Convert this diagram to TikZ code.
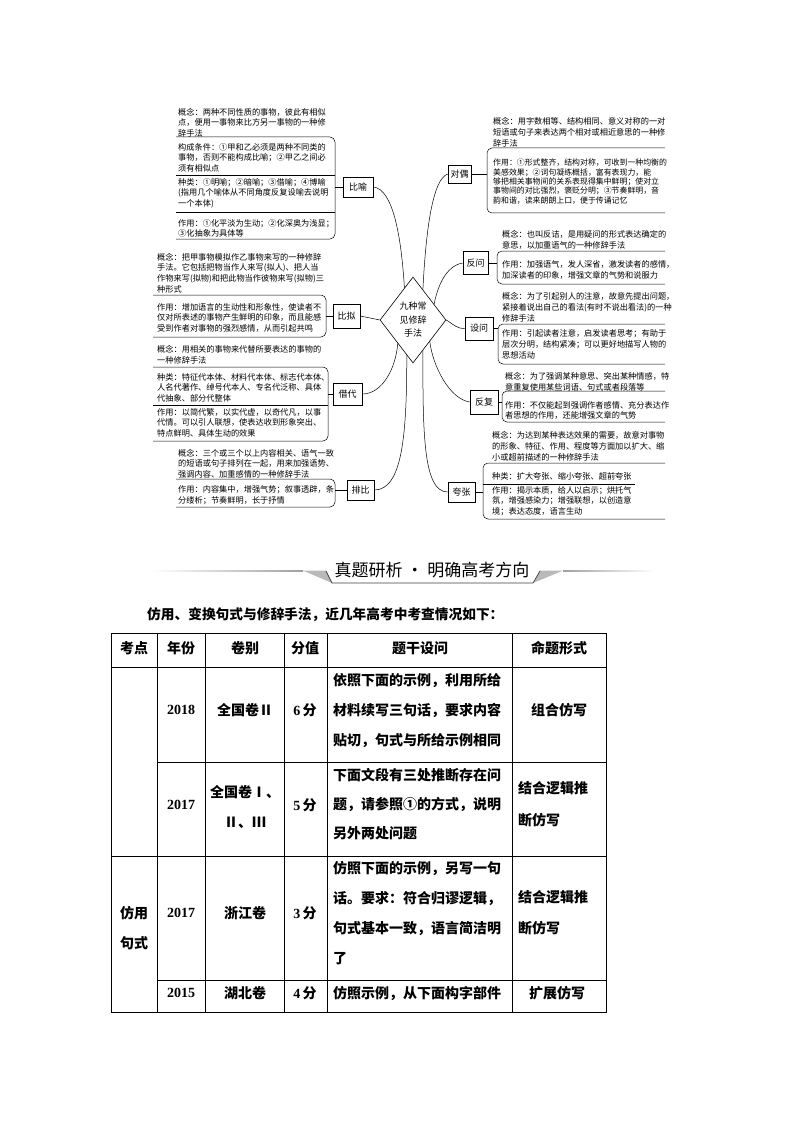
\documentclass[tikz,border=0pt]{standalone}
\usepackage{fontspec}
\setmainfont{Noto Sans CJK SC}
\newfontfamily\numf{Liberation Serif}
\usetikzlibrary{shapes.geometric}
\begin{document}
\begin{tikzpicture}[x=1pt,y=-1pt,
  mtxt/.style={anchor=north west, inner sep=0pt, align=left, font=\fontsize{8.2}{#1}\selectfont},
  mtxt/.default=10.5,
  tech/.style={draw, line width=0.6pt, inner sep=0pt, font=\fontsize{9}{9}\selectfont},
  ln/.style={line width=0.5pt},
  br/.style={line width=0.5pt, rounded corners=5pt},
  tb/.style={line width=0.8pt},
  th/.style={inner sep=0pt, font=\fontsize{14}{14}\selectfont\bfseries},
  tc/.style={inner sep=0pt, font=\fontsize{14}{30}\selectfont\bfseries, align=center},
  tl/.style={inner sep=0pt, anchor=north west, align=left, font=\fontsize{14}{#1}\selectfont\bfseries},
  tl/.default=30
]
\useasboundingbox (0,0) rectangle (794,1123);
\fill[white] (0,0) rectangle (794,1123);

% ---------- centre ----------
\node[draw, shape=diamond, line width=0.6pt, minimum width=66pt, minimum height=86pt, inner sep=0pt,
      align=center, font=\fontsize{9}{13.5}\selectfont] (c) at (413,320) {九种常\\见修辞\\手法};

% ---------- technique boxes ----------
\node[tech, minimum width=30pt, minimum height=20pt] (by) at (358,187) {比喻};
\node[tech, minimum width=27pt, minimum height=24pt] (bn) at (346.5,316) {比拟};
\node[tech, minimum width=29pt, minimum height=22pt] (jd) at (347.5,394) {借代};
\node[tech, minimum width=27pt, minimum height=20pt] (pb) at (360.5,490) {排比};
\node[tech, minimum width=23pt, minimum height=18pt] (dy) at (459.5,174) {对偶};
\node[tech, minimum width=25pt, minimum height=23pt] (fw) at (475.5,263) {反问};
\node[tech, minimum width=28pt, minimum height=23pt] (sw) at (479,328.5) {设问};
\node[tech, minimum width=28pt, minimum height=24pt] (ff) at (484,402) {反复};
\node[tech, minimum width=27pt, minimum height=20pt] (kz) at (461.5,492) {夸张};

% ---------- connectors to centre ----------
\draw[ln] (by.east) .. controls +(20,2) and +(-3,-50) .. (c.105);
\draw[ln] (bn.east) -- (c.west);
\draw[ln] (jd.east) .. controls +(20,0) and +(-2,25) .. (c.-123);
\draw[ln] (pb.east) .. controls +(28,0) and +(0,80) .. (c.-100);
\draw[ln] (dy.west) .. controls +(-15,5) and +(3,-60) .. (c.72);
\draw[ln] (fw.west) .. controls +(-18,3) and +(3,-15) .. (c.37);
\draw[ln] (sw.west) .. controls +(-8,0) and +(8,5) .. (c.east);
\draw[ln] (ff.west) .. controls +(-20,-3) and +(3,25) .. (c.-52);
\draw[ln] (kz.west) .. controls +(-25,0) and +(0,80) .. (c.-72);

% ---------- 比喻 ----------
\node[mtxt] (by1) at (178,108) {概念：两种不同性质的事物，彼此有相似\\点，便用一事物来比方另一事物的一种修\\辞手法};
\draw[br] (176,137) -- (335,137) -- (335,239) -- (176,239);
\draw[ln] (176,175) -- (335,175);
\draw[ln] (176,212) -- (335,212);
\node[mtxt] (by2) at (178,143) {构成条件：①甲和乙必须是两种不同类的\\事物，否则不能构成比喻；②甲乙之间必\\须有相似点};
\node[mtxt] (by3) at (178,178) {种类：①明喻；②暗喻；③借喻；④博喻\\(指用几个喻体从不同角度反复设喻去说明\\一个本体)};
\node[mtxt] (by4) at (178,219) {作用：①化平淡为生动；②化深奥为浅显；\\③化抽象为具体等};
\coordinate (byb) at (335,187);
\draw[ln] (byb) -- (by.west);

% ---------- 比拟 ----------
\node[mtxt=10.7] (bn1) at (157,253) {概念：把甲事物模拟作乙事物来写的一种修辞\\手法。它包括把物当作人来写(拟人)、把人当\\作物来写(拟物)和把此物当作彼物来写(拟物)三\\种形式};
\draw[br] (153,295) -- (326,295) -- (326,337) -- (153,337);
\node[mtxt] (bn2) at (157,303) {作用：增加语言的生动性和形象性，使读者不\\仅对所表述的事物产生鲜明的印象，而且能感\\受到作者对事物的强烈感情，从而引起共鸣};
\coordinate (bnb) at (326,316);
\draw[ln] (bnb) -- (bn.west);

% ---------- 借代 ----------
\node[mtxt=11.5] (jd1) at (157,345) {概念：用相关的事物来代替所要表达的事物的\\一种修辞手法};
\draw[br] (153,367) -- (328,367) -- (328,441) -- (153,441);
\draw[ln] (153,405) -- (328,405);
\node[mtxt=10.7] (jd2) at (157,373) {种类：特征代本体、材料代本体、标志代本体、\\人名代著作、绰号代本人、专名代泛称、具体\\代抽象、部分代整体};
\node[mtxt=10.7] (jd3) at (157,408) {作用：以简代繁，以实代虚，以奇代凡，以事\\代情。可以引人联想，使表达收到形象突出、\\特点鲜明、具体生动的效果};
\coordinate (jdb) at (328,394);
\draw[ln] (jdb) -- (jd.west);

% ---------- 排比 ----------
\node[mtxt] (pb1) at (178,449) {概念：三个或三个以上内容相关、语气一致\\的短语或句子排列在一起，用来加强语势、\\强调内容、加重感情的一种修辞手法};
\draw[br] (176,479) -- (335,479) -- (335,507) -- (176,507);
\node[mtxt=11] (pb2) at (178,485) {作用：内容集中，增强气势；叙事透辟，条\\分缕析；节奏鲜明，长于抒情};
\coordinate (pbb) at (335,490);
\draw[ln] (pbb) -- (pb.west);

% ---------- 对偶 ----------
\node[mtxt=11] (dy1) at (493,117) {概念：用字数相等、结构相同、意义对称的一对\\短语或句子来表达两个相对或相近意思的一种修\\辞手法};
\draw[br] (665,148) -- (487,148) -- (487,213) -- (665,213);
\node[mtxt=9.3, font=\fontsize{7.9}{9.3}\selectfont] (dy2) at (493,159) {作用：①形式整齐，结构对称，可收到一种均衡的\\美感效果；②词句凝练概括，富有表现力，能\\够把相关事物间的关系表现得集中鲜明；使对立\\事物间的对比强烈，褒贬分明；③节奏鲜明，音\\韵和谐，读来朗朗上口，便于传诵记忆};
\coordinate (dyb) at (487,174);
\draw[ln] (dy.east) -- (dyb);

% ---------- 反问 ----------
\node[mtxt=11] (fw1) at (502,230) {概念：也叫反诘，是用疑问的形式表达确定的\\意思，以加重语气的一种修辞手法};
\draw[br] (665,251) -- (497,251) -- (497,284) -- (665,284);
\node[mtxt=11] (fw2) at (502,260) {作用：加强语气，发人深省，激发读者的感情，\\加深读者的印象，增强文章的气势和说服力};
\coordinate (fwb) at (497,263);
\draw[ln] (fw.east) -- (fwb);

% ---------- 设问 ----------
\node[mtxt=11] (sw1) at (502,292) {概念：为了引起别人的注意，故意先提出问题，\\紧接着说出自己的看法(有时不说出看法)的一种\\修辞手法};
\draw[br] (665,324) -- (498,324) -- (498,364) -- (665,364);
\node[mtxt=11] (sw2) at (502,329) {作用：引起读者注意，启发读者思考；有助于\\层次分明，结构紧凑；可以更好地描写人物的\\思想活动};
\coordinate (swb) at (498,328.5);
\draw[ln] (sw.east) -- (swb);

% ---------- 反复 ----------
\node[mtxt=11] (ff1) at (505,372) {概念：为了强调某种意思、突出某种情感，特\\意重复使用某些词语、句式或者段落等};
\draw[br] (665,391) -- (502,391) -- (502,422) -- (665,422);
\node[mtxt] (ff2) at (505,401) {作用：不仅能起到强调作者感情、充分表达作\\者思想的作用，还能增强文章的气势};
\coordinate (ffb) at (502,402);
\draw[ln] (ff.east) -- (ffb);

% ---------- 夸张 ----------
\node[mtxt=11.3] (kz1) at (492,431) {概念：为达到某种表达效果的需要，故意对事物\\的形象、特征、作用、程度等方面加以扩大、缩\\小或超前描述的一种修辞手法};
\draw[br] (665,463) -- (483,463) -- (483,519) -- (665,519);
\draw[ln] (483,484) -- (635,484);
\node[mtxt] (kz2) at (492,472) {种类：扩大夸张、缩小夸张、超前夸张};
\node[mtxt=10.8] (kz3) at (492,486) {作用：揭示本质，给人以启示；烘托气\\氛，增强感染力；增强联想，以创造意\\境；表达态度，语言生动};
\coordinate (kzb) at (483,492);
\draw[ln] (kz.east) -- (kzb);

% ---------- banner ----------
\shade[left color=white, right color=gray!75] (152,570.4) rectangle (303,571.8);
\shade[left color=gray!75, right color=white] (563,570.4) rectangle (655,571.8);
\fill[gray!55] (303,570.6) -- (326,570.6) -- (332,583) -- cycle;
\fill[gray!55] (540,570.6) -- (563,570.6) -- (533,583) -- cycle;
\draw[line width=0.7pt, black!75] (326,571) -- (332,583) -- (533,583) -- (540,571);
\node[inner sep=0pt, font=\fontsize{17}{17}\selectfont] (bt) at (432,570) {真题研析 · 明确高考方向};

% ---------- intro ----------
\node[inner sep=0pt, anchor=west, font=\fontsize{13.7}{13.7}\selectfont\bfseries] (intro) at (147,615) {仿用、变换句式与修辞手法，近几年高考中考查情况如下：};

% ---------- table ----------
\draw[tb] (111,633) rectangle (606,1012);
\draw[tb] (111,667) -- (606,667);
\draw[tb] (157,762) -- (606,762);
\draw[tb] (111,856) -- (606,856);
\draw[tb] (157,980) -- (606,980);
\foreach \xx in {157,205,284,327,512} { \draw[tb] (\xx,633) -- (\xx,1012); }

\node[th] (h1) at (134,648) {考点};
\node[th] (h2) at (181,648) {年份};
\node[th] (h3) at (245,648) {卷别};
\node[th] (h4) at (305,648) {分值};
\node[th] (h5) at (420,648) {题干设问};
\node[th] (h6) at (559,648) {命题形式};

% row 2018
\node[tc] (r1a) at (181,710) {\numf 2018};
\node[tc] (r1b) at (245,710) {全国卷Ⅱ};
\node[tc] (r1c) at (305,710) {{\numf 6}\,分};
\node[tl] (r1d) at (333,673.5) {依照下面的示例，利用所给\\材料续写三句话，要求内容\\贴切，句式与所给示例相同};
\node[tc] (r1e) at (559,710) {组合仿写};

% row 2017 (a)
\node[tc] (r2a) at (181,805) {\numf 2017};
\node[tc] (r2b) at (245,807) {全国卷Ⅰ、\\Ⅱ、Ⅲ};
\node[tc] (r2c) at (305,805) {{\numf 5}\,分};
\node[tl=29] (r2d) at (333,768.5) {下面文段有三处推断存在问\\题，请参照①的方式，说明\\另外两处问题};
\node[tl=32] (r2e) at (518,781.5) {结合逻辑推\\断仿写};

% row 2017 (b)
\node[tc] (r3k) at (134,928) {仿用\\句式};
\node[tc] (r3a) at (181,913) {\numf 2017};
\node[tc] (r3b) at (245,913) {浙江卷};
\node[tc] (r3c) at (305,913) {{\numf 3}\,分};
\node[tl] (r3d) at (333,861.5) {仿照下面的示例，另写一句\\话。要求：符合归谬逻辑，\\句式基本一致，语言简洁明\\了};
\node[tl=31] (r3e) at (518,890.5) {结合逻辑推\\断仿写};

% row 2015
\node[tc] (r4a) at (181,993) {\numf 2015};
\node[tc] (r4b) at (245,993) {湖北卷};
\node[tc] (r4c) at (305,993) {{\numf 4}\,分};
\node[tl] (r4d) at (333,986.5) {仿照示例，从下面构字部件};
\node[tc] (r4e) at (557,993) {扩展仿写};
\end{tikzpicture}
\end{document}
